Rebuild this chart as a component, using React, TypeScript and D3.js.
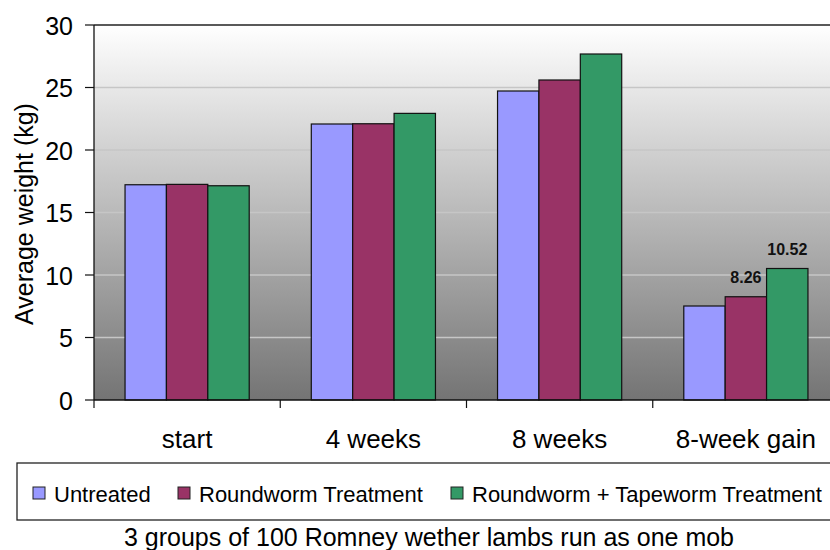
import React from "react";
import * as d3 from "d3";

const categories = ["start", "4 weeks", "8 weeks", "8-week gain"];
const seriesNames = ["Untreated", "Roundworm Treatment", "Roundworm + Tapeworm Treatment"];
const untreated = [17.22, 22.08, 24.72, 7.52];
const roundworm = [17.25, 22.1, 25.6, 8.26];
const tapeworm = [17.14, 22.93, 27.68, 10.52];
const seriesColors = ["#9999ff", "#993366", "#339966"];
const yTicks = [0, 5, 10, 15, 20, 25, 30];
const dataLabels: { cat: number; s: number; text: string }[] = [
  { cat: 3, s: 1, text: "8.26" },
  { cat: 3, s: 2, text: "10.52" },
];
const caption = "3 groups of 100 Romney wether lambs run as one mob";
const yTitle = "Average weight (kg)";

const W = 830;
const H = 550;
const plot = { left: 94, top: 25, right: 839, bottom: 400 };
const font = "'Liberation Sans', Arial, sans-serif";

export default function App() {
  const series = [untreated, roundworm, tapeworm];
  const x = d3.scaleBand<string>().domain(categories).range([plot.left, plot.right]).paddingInner(0).paddingOuter(0);
  const inner = d3
    .scaleBand<number>()
    .domain([0, 1, 2])
    .range([0, x.bandwidth()])
    .paddingInner(0)
    .paddingOuter(0.75);
  const y = d3.scaleLinear().domain([0, 30]).range([plot.bottom, plot.top]);

  const legendItems = [
    { x: 33, text: seriesNames[0] },
    { x: 178, text: seriesNames[1] },
    { x: 451, text: seriesNames[2] },
  ];

  return (
    <svg
      width={W}
      height={H}
      style={{ position: "absolute", left: 0, top: 0, background: "#fff" }}
      fontFamily={font}
    >
      <defs>
        <linearGradient id="bg" x1="0" y1="0" x2="0" y2="1">
          <stop offset="0" stopColor="#ffffff" />
          <stop offset="1" stopColor="#747474" />
        </linearGradient>
        <clipPath id="clipAll">
          <rect x={0} y={0} width={W} height={H} />
        </clipPath>
      </defs>
      <g clipPath="url(#clipAll)">
        <rect
          x={plot.left}
          y={plot.top}
          width={plot.right - plot.left}
          height={plot.bottom - plot.top}
          fill="url(#bg)"
        />
        {yTicks.slice(1, -1).map((t) => (
          <line
            key={t}
            x1={plot.left}
            x2={plot.right}
            y1={y(t)}
            y2={y(t)}
            stroke="#c6c6c6"
            strokeWidth={1.3}
          />
        ))}
        <line x1={plot.left} x2={plot.right} y1={plot.top} y2={plot.top} stroke="#222" strokeWidth={1.5} />
        {categories.map((c, ci) =>
          series.map((s, si) => (
            <rect
              key={c + si}
              x={(x(c) ?? 0) + (inner(si) ?? 0)}
              y={y(s[ci])}
              width={inner.bandwidth()}
              height={y(0) - y(s[ci])}
              fill={seriesColors[si]}
              stroke="#111"
              strokeWidth={1.2}
            />
          ))
        )}
        {dataLabels.map((d) => (
          <text
            key={d.text}
            x={(x(categories[d.cat]) ?? 0) + (inner(d.s) ?? 0) + inner.bandwidth() / 2}
            y={y(series[d.s][d.cat]) - 14}
            textAnchor="middle"
            fontSize={16}
            fontWeight="bold"
            fill="#111"
          >
            {d.text}
          </text>
        ))}
        {/* axes */}
        <line x1={plot.left} x2={plot.left} y1={plot.top} y2={plot.bottom} stroke="#111" strokeWidth={1.3} />
        <line x1={plot.left} x2={plot.right} y1={plot.bottom} y2={plot.bottom} stroke="#111" strokeWidth={1.3} />
        {yTicks.map((t) => (
          <g key={t}>
            <line x1={plot.left - 9} x2={plot.left} y1={y(t)} y2={y(t)} stroke="#111" strokeWidth={1.2} />
            <text x={73} y={y(t) + 9.5} textAnchor="end" fontSize={25} fill="#000">
              {t}
            </text>
          </g>
        ))}
        {categories.map((c, i) => (
          <line
            key={"t" + i}
            x1={x(c) ?? 0}
            x2={x(c) ?? 0}
            y1={plot.bottom}
            y2={plot.bottom + 8}
            stroke="#111"
            strokeWidth={1.2}
          />
        ))}
        {categories.map((c) => (
          <text
            key={"l" + c}
            x={(x(c) ?? 0) + x.bandwidth() / 2}
            y={448}
            textAnchor="middle"
            fontSize={26}
            fill="#000"
          >
            {c}
          </text>
        ))}
        <text
          transform={`translate(33, 214) rotate(-90)`}
          textAnchor="middle"
          fontSize={25}
          fill="#000"
        >
          {yTitle}
        </text>
        {/* legend */}
        <rect x={17} y={463} width={830} height={57} fill="#fff" stroke="#222" strokeWidth={1.3} />
        {legendItems.map((it, i) => (
          <g key={it.text}>
            <rect x={it.x} y={487} width={12} height={12} fill={seriesColors[i]} stroke="#222" strokeWidth={1} />
            <text x={it.x + 21} y={501.5} fontSize={22} fill="#000">
              {it.text}
            </text>
          </g>
        ))}
        <text x={429} y={546} textAnchor="middle" fontSize={25} fill="#000">
          {caption}
        </text>
      </g>
    </svg>
  );
}
